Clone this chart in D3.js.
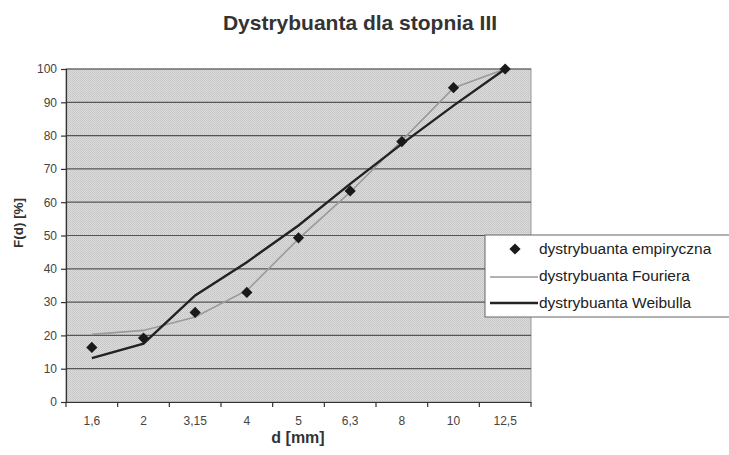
<!DOCTYPE html>
<html>
<head>
<meta charset="utf-8">
<style>
body { margin: 0; background: #fff; }
text { font-family: "Liberation Sans", Arial, sans-serif; fill: #333; }
.grid line { stroke: #555; stroke-width: 1.2; }
.axis path, .axis line { stroke: #333; stroke-width: 1.2; }
.axis text { font-size: 12px; fill: #444; }
</style>
</head>
<body>
<svg width="729" height="455"></svg>
<script src="https://d3js.org/d3.v7.min.js"></script>
<script>
// data
var categories = ["1,6", "2", "3,15", "4", "5", "6,3", "8", "10", "12,5"];
var empiryczna = [16.4, 19.2, 26.9, 32.9, 49.3, 63.4, 78.2, 94.4, 100];
var fouriera = [20.3, 21.5, 25.5, 33.5, 49, 63, 78.5, 94.3, 100];
var weibulla = [13.2, 17.5, 32, 42, 53, 65.5, 77.5, 89, 100];
var yTicks = [0, 10, 20, 30, 40, 50, 60, 70, 80, 90, 100];

var svg = d3.select("svg");
// plot area edges (window.top is reserved, so plotTop)
var plotLeft = 66, plotRight = 531, plotTop = 69, plotBottom = 402;

var x = d3.scaleBand().domain(categories).range([plotLeft, plotRight]);
var y = d3.scaleLinear().domain([0, 100]).range([plotBottom, plotTop]);

// textured plot background, like the scan
var defs = svg.append("defs");
var pat = defs.append("pattern")
    .attr("id", "dots").attr("width", 2).attr("height", 2)
    .attr("patternUnits", "userSpaceOnUse");
pat.append("rect").attr("width", 2).attr("height", 2).attr("fill", "#dcdcdc");
pat.append("rect").attr("width", 1).attr("height", 1).attr("fill", "#c4c4c4");
pat.append("rect").attr("x", 1).attr("y", 1).attr("width", 1).attr("height", 1).attr("fill", "#cbcbcb");

svg.append("rect")
    .attr("x", plotLeft).attr("y", plotTop)
    .attr("width", plotRight - plotLeft).attr("height", plotBottom - plotTop)
    .attr("fill", "url(#dots)")
    .attr("stroke", "#999").attr("stroke-width", 1);

// gridlines
svg.append("g").attr("class", "grid")
  .selectAll("line")
  .data(yTicks.slice(1))
  .enter().append("line")
    .attr("x1", plotLeft).attr("x2", plotRight)
    .attr("y1", d => y(d)).attr("y2", d => y(d));

// axes
var xAxis = svg.append("g").attr("class", "axis")
    .attr("transform", "translate(0," + plotBottom + ")")
    .call(d3.axisBottom(x).tickSize(0).tickPadding(14));
xAxis.selectAll(".tick line").remove();
xAxis.append("g")
  .selectAll("line")
  .data(categories.map((c, i) => i).concat([categories.length]))
  .enter().append("line")
    .attr("x1", i => plotLeft + i * x.bandwidth()).attr("x2", i => plotLeft + i * x.bandwidth())
    .attr("y1", 0).attr("y2", 5)
    .attr("stroke", "#333").attr("stroke-width", 1.2);

svg.append("g").attr("class", "axis")
    .attr("transform", "translate(" + plotLeft + ",0)")
    .call(d3.axisLeft(y).tickValues(yTicks).tickSize(5).tickPadding(4));

// series
var cx = (d, i) => x(categories[i]) + x.bandwidth() / 2;

svg.append("path")
    .datum(fouriera)
    .attr("fill", "none").attr("stroke", "#9a9a9a").attr("stroke-width", 1.6)
    .attr("d", d3.line().x(cx).y(d => y(d)));

svg.append("path")
    .datum(weibulla)
    .attr("fill", "none").attr("stroke", "#222").attr("stroke-width", 2.4)
    .attr("d", d3.line().x(cx).y(d => y(d)));

var diamond = d3.symbol().type(d3.symbolDiamond2).size(80);
svg.append("g")
  .selectAll("path")
  .data(empiryczna)
  .enter().append("path")
    .attr("d", diamond)
    .attr("transform", (d, i) => "translate(" + cx(d, i) + "," + y(d) + ")")
    .attr("fill", "#1a1a1a");

// titles
svg.append("text")
    .attr("x", 360).attr("y", 30)
    .attr("text-anchor", "middle")
    .style("font-size", "21px").style("font-weight", "bold")
    .text("Dystrybuanta dla stopnia III");

svg.append("text")
    .attr("transform", "translate(23,223) rotate(-90)")
    .attr("text-anchor", "middle")
    .style("font-size", "13.5px").style("font-weight", "bold")
    .text("F(d) [%]");

svg.append("text")
    .attr("x", 298).attr("y", 443)
    .attr("text-anchor", "middle")
    .style("font-size", "16px").style("font-weight", "bold")
    .text("d [mm]");

// legend
var legendNames = ["dystrybuanta empiryczna", "dystrybuanta Fouriera", "dystrybuanta Weibulla"];
var lg = svg.append("g").attr("transform", "translate(485,235)");
lg.append("rect")
    .attr("width", 250).attr("height", 82)
    .attr("fill", "#fff").attr("stroke", "#666").attr("stroke-width", 1);

lg.append("path").attr("d", diamond).attr("transform", "translate(30,14)").attr("fill", "#1a1a1a");
lg.append("line").attr("x1", 5).attr("x2", 53).attr("y1", 42).attr("y2", 42)
    .attr("stroke", "#9a9a9a").attr("stroke-width", 1.6);
lg.append("line").attr("x1", 5).attr("x2", 53).attr("y1", 68).attr("y2", 68)
    .attr("stroke", "#222").attr("stroke-width", 2.4);

lg.selectAll("text.lbl")
  .data(legendNames)
  .enter().append("text")
    .attr("class", "lbl")
    .attr("x", 54).attr("y", (d, i) => 14 + i * 27)
    .attr("dy", "0.35em")
    .style("font-size", "15.5px").style("fill", "#222")
    .text(d => d);
</script>
</body>
</html>
